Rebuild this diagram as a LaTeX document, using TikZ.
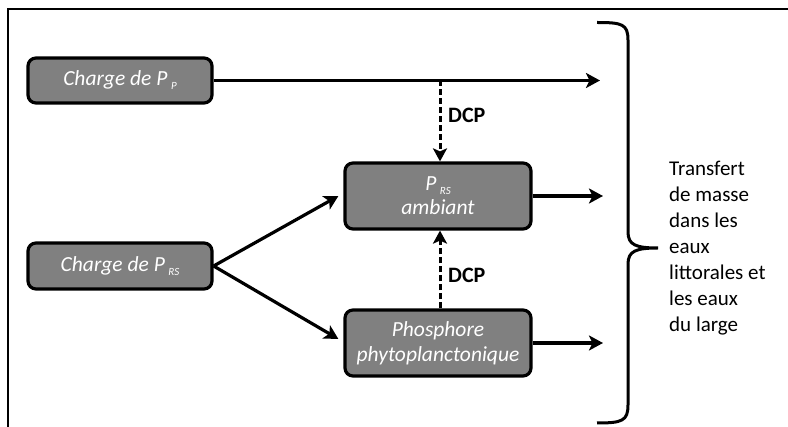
\documentclass[tikz,border=0pt]{standalone}
\usepackage{fontspec}
\setmainfont{Carlito}
\usetikzlibrary{arrows.meta,calc}
\newcommand\mysb[1]{\raisebox{-4pt}{\fontsize{11}{11}\selectfont #1}}
\begin{document}
\begin{tikzpicture}[x=1pt,y=-1pt,
  boxst/.style={draw=black,line width=3.2pt,rounded corners=8pt,fill=black!50,
    text=white,font=\fontsize{21.5}{25}\selectfont\itshape,align=center,inner sep=0pt},
  arr/.style={line width=3.2pt,-{Stealth[length=14pt,width=15pt,inset=3.5pt]}},
  darr/.style={line width=3pt,dash pattern=on 6pt off 3pt,-{Stealth[length=13pt,width=14pt,inset=3pt]}},
  lbl/.style={font=\fontsize{22}{24}\selectfont\bfseries,inner sep=0pt,anchor=base west}]
\useasboundingbox (0,0) rectangle (788,427);
\draw[line width=2.2pt] (8,427) -- (8,9) -- (788,9);
\node[boxst,minimum width=184pt,minimum height=45pt] (pp) at (120,80.5) {Charge de P\,\mysb{P}};
\node[boxst,minimum width=184pt,minimum height=46pt] (prs) at (120,266) {Charge de P\,\mysb{RS}};
\node[boxst,minimum width=186pt,minimum height=66pt] (amb) at (438,196) {P\,\mysb{RS}\\[-1pt]ambiant};
\node[boxst,minimum width=186pt,minimum height=66pt] (phy) at (438,343) {Phosphore\\phytoplanctonique};
\coordinate (e1) at (600,80.5);
\coordinate (e2) at (603,196);
\coordinate (e3) at (603,343);
\coordinate (j1) at (440,80.5);
\draw[arr] (pp.east) -- (e1);
\draw[arr] (amb.east) -- (e2);
\draw[arr] (phy.east) -- (e3);
\draw[arr] (prs.east) -- ($(amb.west)+(-5,0)$);
\draw[arr] (prs.east) -- ($(phy.west)+(-5,-4)$);
\draw[darr] (j1) -- (j1 |- amb.north);
\draw[darr] (j1 |- phy.north) -- (j1 |- amb.south);
\node[lbl] (d1) at (448,123) {DCP};
\node[lbl] (d2) at (448,283) {DCP};
\draw[line width=3pt] (597,22.5) .. controls (622,22.5) and (628,24) .. (628,40)
  -- (628,232) .. controls (628,245) and (636,248) .. (658,248)
  .. controls (636,248) and (628,251) .. (628,264)
  -- (628,405) .. controls (628,421) and (622,423) .. (597,423);
\node[anchor=north west,inner sep=0pt,align=left,font=\fontsize{21}{26}\selectfont] (txt) at (669,161)
  {Transfert\\de masse\\dans les\\eaux\\littorales et\\les eaux\\du large};
\end{tikzpicture}
\end{document}
